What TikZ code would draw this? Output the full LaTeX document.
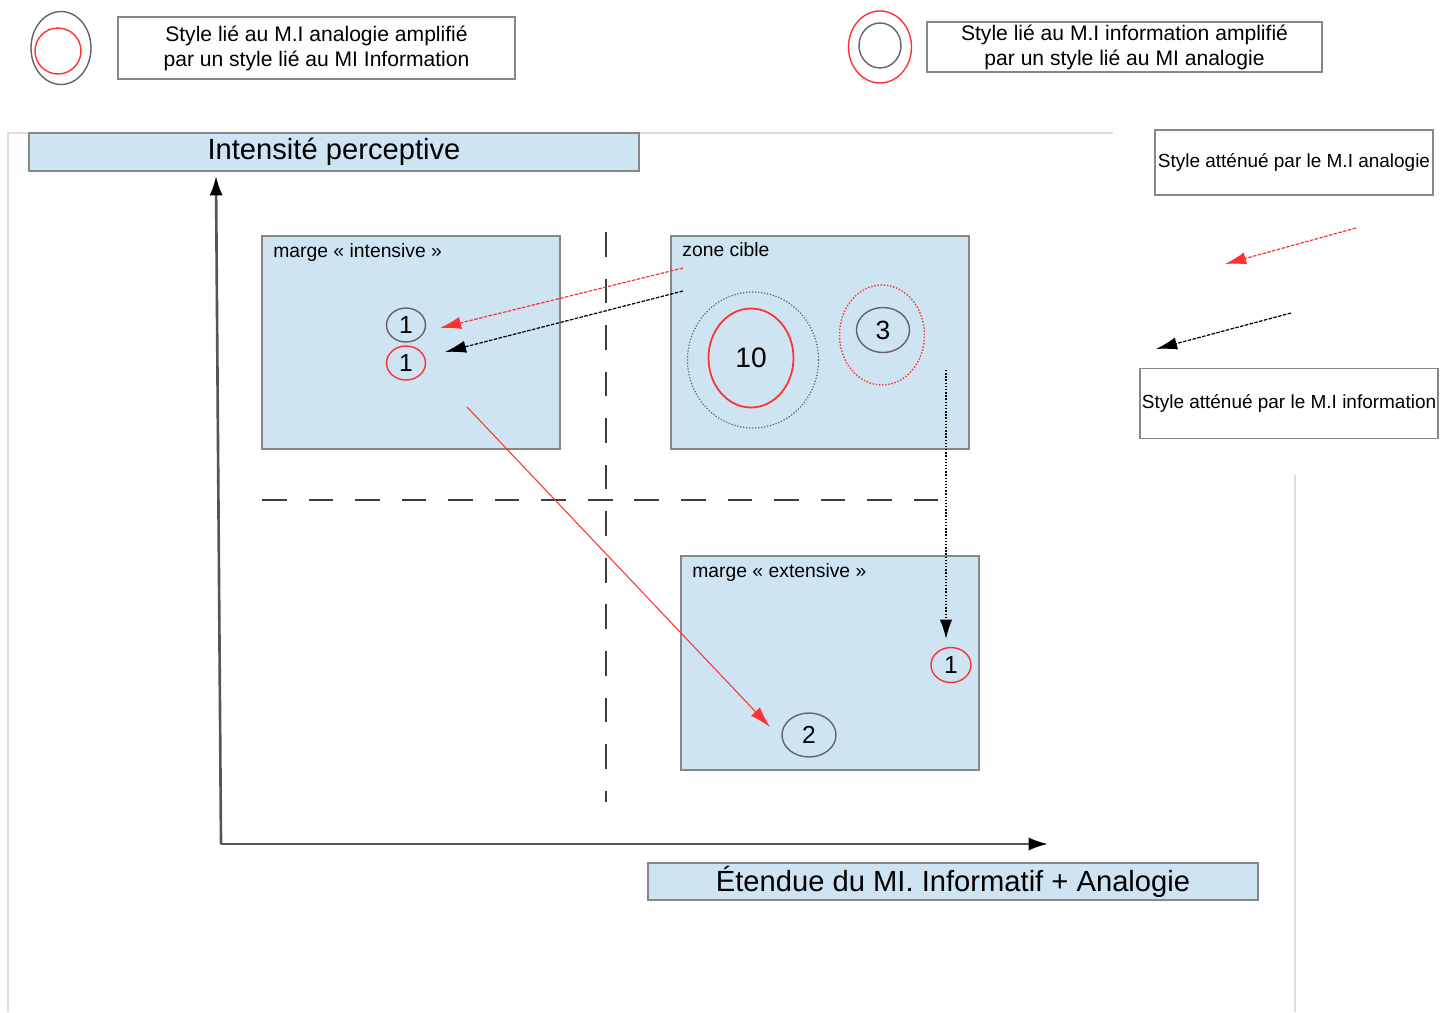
\documentclass[tikz,border=0pt]{standalone}
\usepackage{fontspec}
\setmainfont{Liberation Sans}
\usetikzlibrary{arrows.meta,shapes.geometric}
\definecolor{lblue}{RGB}{207,228,242}
\definecolor{bgray}{RGB}{135,135,135}
\definecolor{fgray}{RGB}{222,222,222}
\definecolor{mred}{RGB}{255,50,50}
\definecolor{cgray}{RGB}{100,100,100}
\definecolor{axgray}{RGB}{85,85,85}
\definecolor{dgray}{RGB}{60,60,60}
\begin{document}
\begin{tikzpicture}[x=0.02cm,y=-0.02cm,
  bluebox/.style={rectangle,draw=bgray,fill=lblue,line width=0.9pt,inner sep=0pt},
  whitebox/.style={rectangle,draw=bgray,fill=white,line width=0.9pt,inner sep=0pt,align=center},
  ring/.style={ellipse,draw=cgray,line width=0.8pt,inner sep=0pt},
  redring/.style={ellipse,draw=mred,line width=0.8pt,inner sep=0pt},
  frameline/.style={draw=fgray,line width=1.1pt},
  axisline/.style={draw=axgray,line width=1.5pt,-{Latex[length=11pt,width=7.5pt,color=black]}},
  guide/.style={draw=dgray,line width=1.2pt,dash pattern=on 14pt off 12.5pt},
  redarrow/.style={draw=mred,line width=0.7pt,dash pattern=on 2pt off 0.8pt,-{Latex[length=12pt,width=7pt]}},
  blackarrow/.style={draw=black,line width=0.7pt,dash pattern=on 2pt off 0.8pt,-{Latex[length=12pt,width=7pt]}},
  redline/.style={draw=mred,line width=0.6pt,-{Latex[length=12pt,width=7pt]}},
  dotarrow/.style={draw=black,line width=0.8pt,densely dotted,-{Latex[length=11pt,width=7pt]}},
  lbl/.style={anchor=west,inner sep=0pt,font=\fontsize{11}{13}\selectfont},
  legtxt/.style={font=\fontsize{12}{14.2}\selectfont},
  sidetxt/.style={font=\fontsize{10.8}{13}\selectfont},
  axtxt/.style={font=\fontsize{16.6}{19}\selectfont},
  numA/.style={font=\fontsize{14}{16}\selectfont},
  numB/.style={font=\fontsize{16}{18}\selectfont}
]
\useasboundingbox (0,0) rectangle (1448,1012);

% faint frame lines
\coordinate (fTL) at (8,133);
\coordinate (fTR) at (1113,133);
\coordinate (fBL) at (8,1012);
\coordinate (fRT) at (1295,475);
\coordinate (fRB) at (1295,1012);
\draw[frameline] (fTR) -- (fTL) -- (fBL);
\draw[frameline] (fRT) -- (fRB);

% legend 1
\node[ring,minimum width=1.2cm,minimum height=1.46cm] (l1o) at (61,48) {};
\node[redring,minimum width=0.92cm,minimum height=0.92cm] (l1i) at (58,51) {};
\node[whitebox,legtxt,minimum width=7.94cm,minimum height=1.24cm] (leg1) at (316.5,48)
  {Style lié au M.I analogie amplifié\\par un style lié au MI Information};

% legend 2
\node[redring,minimum width=1.26cm,minimum height=1.44cm] (l2o) at (880,47) {};
\node[ring,minimum width=0.84cm,minimum height=0.9cm] (l2i) at (880,45.5) {};
\node[whitebox,legtxt,minimum width=7.9cm,minimum height=1.0cm] (leg2) at (1124.5,47)
  {Style lié au M.I information amplifié\\par un style lié au MI analogie};

% right side legend
\node[whitebox,sidetxt,minimum width=5.56cm,minimum height=1.3cm] (sideA) at (1294,162.5)
  {Style atténué par le M.I analogie};
\node[whitebox,sidetxt,minimum width=5.96cm,minimum height=1.4cm] (sideB) at (1289,403.5)
  {Style atténué par le M.I information};
\coordinate (sRa) at (1356,228);
\coordinate (sRb) at (1225,264);
\coordinate (sBa) at (1291,313);
\coordinate (sBb) at (1156,349);
\draw[redarrow] (sRa) -- (sRb);
\draw[blackarrow] (sBa) -- (sBb);

% axis titles
\node[bluebox,axtxt,minimum width=12.2cm,minimum height=0.76cm] (ytitle) at (334,152)
  {Intensité perceptive};
\node[bluebox,axtxt,minimum width=12.2cm,minimum height=0.74cm] (xtitle) at (953,881.5)
  {Étendue du MI. Informatif + Analogie};

% axes
\coordinate (origin) at (221,844);
\coordinate (ytip) at (216,176);
\coordinate (xtip) at (1048,844);
\draw[axisline] (origin) -- (ytip);
\draw[axisline] (origin) -- (xtip);

% guides
\coordinate (gv1) at (606,232);
\coordinate (gv2) at (606,802);
\coordinate (gh1) at (262,500);
\coordinate (gh2) at (948,500);
\draw[guide] (gv1) -- (gv2);
\draw[guide] (gh1) -- (gh2);

% zone boxes
\node[bluebox,minimum width=5.96cm,minimum height=4.26cm] (intens) at (411,342.5) {};
\node[lbl] (intensL) at (273,252) {marge « intensive »};
\node[bluebox,minimum width=5.96cm,minimum height=4.26cm] (cible) at (820,342.5) {};
\node[lbl] (cibleL) at (682,250) {zone cible};
\node[bluebox,minimum width=5.96cm,minimum height=4.28cm] (extens) at (830,663) {};
\node[lbl] (extensL) at (692,572) {marge « extensive »};

% circles in intensive margin
\node[ring,numA,minimum width=0.78cm,minimum height=0.68cm] (i1g) at (406,325) {1};
\node[redring,numA,minimum width=0.78cm,minimum height=0.68cm] (i1r) at (406,363) {1};

% zone cible circles
\node[ellipse,draw=cgray,line width=0.7pt,densely dotted,minimum width=2.62cm,minimum height=2.72cm] (c10o) at (753,360) {};
\node[redring,numB,line width=1pt,minimum width=1.7cm,minimum height=1.98cm] (c10) at (751,358) {10};
\node[ellipse,draw=mred,line width=0.8pt,densely dotted,minimum width=1.7cm,minimum height=2.0cm] (c3o) at (882,335) {};
\node[ring,font=\fontsize{15}{17}\selectfont,minimum width=1.06cm,minimum height=0.9cm] (c3) at (883,330) {3};

% extensive margin circles
\node[redring,numA,minimum width=0.8cm,minimum height=0.7cm] (e1r) at (951,665) {1};
\node[ring,numA,minimum width=1.08cm,minimum height=0.88cm] (e2) at (809,735) {2};

% arrows from zone cible
\coordinate (aRs) at (683,268);
\coordinate (aRe) at (440,328);
\coordinate (aBs) at (683,291);
\coordinate (aBe) at (445,352);
\draw[redarrow] (aRs) -- (aRe);
\draw[blackarrow] (aBs) -- (aBe);

\coordinate (dLs) at (467,407);
\coordinate (dLe) at (770,727);
\draw[redline] (dLs) -- (dLe);

\coordinate (vDs) at (946,370);
\coordinate (vDe) at (946,639);
\draw[dotarrow] (vDs) -- (vDe);
\end{tikzpicture}
\end{document}
